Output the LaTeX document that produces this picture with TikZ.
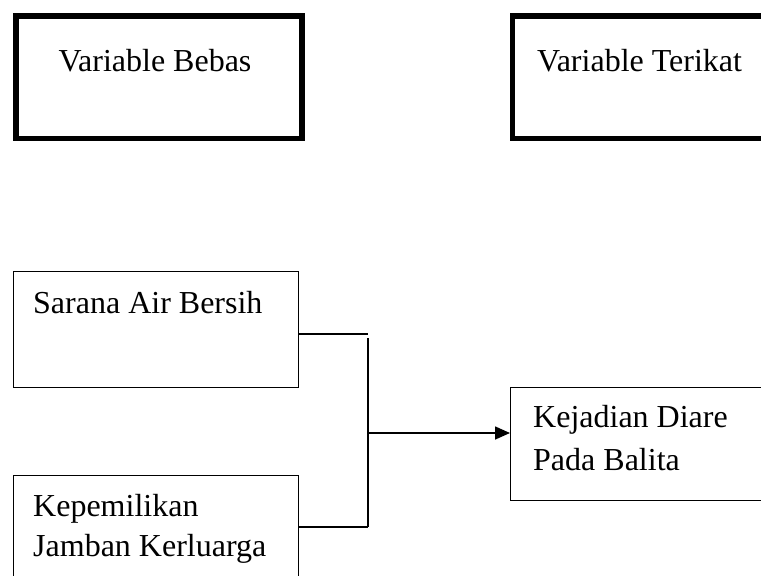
\documentclass[tikz,border=0pt]{standalone}
\usepackage{fontspec}
\setmainfont{Liberation Serif}
\usetikzlibrary{arrows.meta,calc}
\tikzset{
  thickbox/.style={draw=black, line width=5.5pt, inner sep=0pt},
  thinbox/.style={draw=black, line width=1.4pt, inner sep=0pt},
  lbl/.style={anchor=base west, inner sep=0pt, font=\fontsize{32}{41}\selectfont},
  conn/.style={draw=black, line width=1.6pt},
  arr/.style={conn, -{Triangle[length=15pt,width=13pt]}}
}
\begin{document}
\begin{tikzpicture}[x=1pt,y=1pt]
\clip (0,0) rectangle (761,-576);
\useasboundingbox (0,0) rectangle (761,-576);
% top boxes
\node[thickbox, minimum width=286pt, minimum height=122.5pt, anchor=north west] (vb) at (13,-13) {};
\node[thickbox, minimum width=300pt, minimum height=122.5pt, anchor=north west] (vt) at (509.5,-13) {};
\node[lbl, anchor=base] (vbt) at (155,-71) {Variable Bebas};
\node[lbl] (vtt) at (537,-71) {Variable Terikat};
% lower boxes
\node[thinbox, minimum width=285pt, minimum height=116.5pt, anchor=north west] (sab) at (13,-270.5) {};
\node[thinbox, minimum width=285pt, minimum height=130pt, anchor=north west] (kjk) at (13,-474.5) {};
\node[thinbox, minimum width=300pt, minimum height=113pt, anchor=north west] (kdb) at (510,-387) {};
\node[lbl] (sabt) at (33,-313) {Sarana Air Bersih};
\node[lbl] (kjkt1) at (33,-516) {Kepemilikan};
\node[lbl] (kjkt2) at (33,-556) {Jamban Kerluarga};
\node[lbl] (kdbt1) at (533,-427) {Kejadian Diare};
\node[lbl] (kdbt2) at (533,-470) {Pada Balita};
% connectors
\coordinate (j1) at (368,-334);
\coordinate (j1b) at (368,-338);
\coordinate (j2) at (368,-527);
\coordinate (jm) at (368,-433);
\draw[conn] (sab.east |- j1) -- (j1);
\draw[conn] (j1b) -- (j2);
\draw[conn] (kjk.east |- j2) -- (j2);
\draw[arr] (jm) -- (kdb.west |- jm);
\end{tikzpicture}
\end{document}
